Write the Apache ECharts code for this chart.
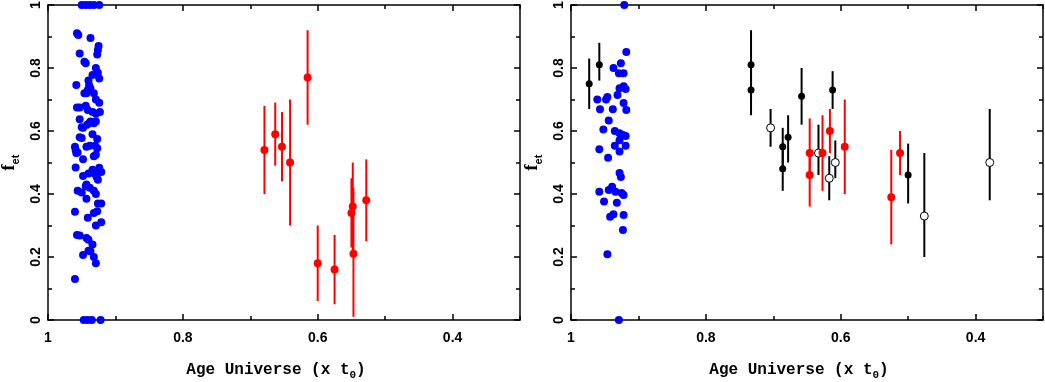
<!DOCTYPE html>
<html>
<head>
<meta charset="utf-8">
<script src="https://cdn.jsdelivr.net/npm/echarts@6/dist/echarts.min.js"></script>
<style>html,body{margin:0;padding:0;background:#fff}#c{width:1045px;height:382px}</style>
</head>
<body>
<div id="c"></div>
<script>
// ---------- Left panel: blue sample ----------
const leftBlueX = [0.950,0.944,0.938,0.932,0.924, 0.947,0.941,0.935,0.922,
  0.957,0.955,0.937,0.925,0.926,0.927,0.953,0.946,0.944,0.929,0.926,0.934,0.924,0.958,0.940,0.939,0.937,0.941,0.946,0.943,0.932,0.929,0.924,
  0.957,0.953,0.944,0.941,0.934,0.929,0.923,0.953,0.942,0.939,0.937,0.932,0.929,0.948,0.950,0.934,0.953,0.950,0.927,
  0.960,0.959,0.958,0.956,0.943,0.938,0.930,0.927,0.932,0.929,0.948,0.924,0.921,0.928,0.959,0.934,0.932,0.948,0.940,0.928,0.926,
  0.943,0.944,0.956,0.950,0.938,0.932,0.929,0.943,0.926,0.921,0.960,0.932,0.927,0.941,0.929,0.921,0.957,0.953,0.943,0.940,0.934,
  0.948,0.940,0.937,0.932,0.929,0.960];
const leftBlueY = [1,1,1,1,1, 0,0,0,0,
  0.91,0.905,0.895,0.87,0.857,0.843,0.846,0.82,0.815,0.80,0.785,0.778,0.767,0.746,0.76,0.745,0.735,0.73,0.72,0.72,0.72,0.70,0.69,
  0.675,0.675,0.68,0.667,0.66,0.655,0.66,0.637,0.62,0.625,0.63,0.625,0.63,0.61,0.612,0.59,0.58,0.578,0.575,
  0.55,0.54,0.53,0.532,0.55,0.553,0.553,0.545,0.52,0.525,0.51,0.483,0.47,0.47,0.484,0.477,0.467,0.457,0.465,0.455,0.445,
  0.43,0.425,0.41,0.405,0.42,0.41,0.40,0.385,0.37,0.37,0.344,0.34,0.345,0.325,0.30,0.31,0.27,0.268,0.26,0.255,0.24,
  0.206,0.22,0.218,0.20,0.18,0.13];

// ---------- Left panel: red points with error bars ----------
const leftRedX  = [0.679,0.663,0.653,0.641,0.615,0.600,0.575,0.550,0.548,0.547,0.528];
const leftRedY  = [0.54,0.59,0.55,0.50,0.77,0.18,0.16,0.34,0.36,0.21,0.38];
const leftRedLo = [0.40,0.49,0.44,0.30,0.62,0.06,0.05,0.23,0.22,0.01,0.25];
const leftRedHi = [0.68,0.69,0.66,0.70,0.92,0.30,0.27,0.45,0.50,0.42,0.51];

// ---------- Right panel: blue sample ----------
const rightBlueX = [0.921,0.918,0.926,0.937,0.929,0.922,0.922,0.919,0.928,0.931,0.946,0.948,0.961,0.957,0.938,0.922,0.918,
  0.944,0.952,0.935,0.928,0.923,0.919,0.928,0.958,0.935,0.919,0.945,0.928,0.928,0.926,0.958,0.944,0.939,0.934,0.925,0.922,
  0.951,0.932,0.942,0.937,0.922,0.923,0.946,0.929];
const rightBlueY = [1.0,0.851,0.815,0.80,0.783,0.783,0.742,0.733,0.736,0.714,0.708,0.70,0.70,0.669,0.669,0.689,0.667,
  0.633,0.605,0.60,0.593,0.587,0.584,0.571,0.542,0.553,0.553,0.515,0.535,0.467,0.454,0.407,0.413,0.423,0.407,0.403,0.397,
  0.376,0.372,0.328,0.336,0.333,0.286,0.209,0.0];

// ---------- Right panel: black filled points ----------
const rightBlackX  = [0.973,0.958,0.733,0.733,0.686,0.686,0.678,0.658,0.612,0.500];
const rightBlackY  = [0.75,0.81,0.81,0.73,0.55,0.48,0.58,0.71,0.73,0.46];
const rightBlackLo = [0.67,0.76,0.70,0.65,0.48,0.41,0.50,0.62,0.67,0.37];
const rightBlackHi = [0.83,0.88,0.92,0.81,0.61,0.55,0.65,0.80,0.79,0.56];

// ---------- Right panel: black open points ----------
const rightOpenX  = [0.704,0.633,0.617,0.608,0.476,0.379];
const rightOpenY  = [0.61,0.53,0.45,0.50,0.33,0.50];
const rightOpenLo = [0.55,0.46,0.38,0.45,0.20,0.38];
const rightOpenHi = [0.67,0.62,0.52,0.57,0.53,0.67];

// ---------- Right panel: red points ----------
const rightRedX  = [0.646,0.646,0.627,0.616,0.594,0.525,0.512];
const rightRedY  = [0.53,0.46,0.53,0.60,0.55,0.39,0.53];
const rightRedLo = [0.46,0.36,0.41,0.53,0.40,0.24,0.46];
const rightRedHi = [0.64,0.53,0.65,0.67,0.70,0.54,0.60];

// ---------- Axis ticks ----------
const xMajor = [1, 0.8, 0.6, 0.4];
const xMinor = [0.9, 0.7, 0.5, 0.3];
const xTickLabels = ['1', '0.8', '0.6', '0.4'];
const yTickLabels = {0: '0', 0.2: '0.2', 0.4: '0.4', 0.6: '0.6', 0.8: '0.8', 1: '1'};

const zip2 = (a, b) => a.map((v, i) => [v, b[i]]);
const zip3 = (a, b, c) => a.map((v, i) => [v, b[i], c[i]]);

function errSeries(xs, lo, hi, color, xi, yi) {
  return {
    type: 'custom', xAxisIndex: xi, yAxisIndex: yi, z: 2,
    data: zip3(xs, lo, hi),
    encode: {x: 0, y: [1, 2]},
    renderItem: function (params, api) {
      const p1 = api.coord([api.value(0), api.value(1)]);
      const p2 = api.coord([api.value(0), api.value(2)]);
      return {type: 'line', shape: {x1: p1[0], y1: p1[1], x2: p2[0], y2: p2[1]},
              style: {stroke: color, lineWidth: 2}};
    }
  };
}
function pts(xs, ys, color, size, xi, yi, extra) {
  return Object.assign({
    type: 'scatter', xAxisIndex: xi, yAxisIndex: yi, z: 3,
    data: zip2(xs, ys), symbol: 'circle', symbolSize: size,
    itemStyle: {color: color, opacity: 1}
  }, extra || {});
}

const lineStyle = {color: '#000', width: 1.5};
const labelFont = {color: '#000', fontFamily: 'Liberation Sans', fontWeight: 'bold', fontSize: 14};

function xAxes(gi) {
  const base = {type: 'value', gridIndex: gi, min: 0.3, max: 1, inverse: true,
    splitLine: {show: false}, axisLabel: {show: false}};
  const majorTick = {show: true, inside: true, length: 6, lineStyle: lineStyle, customValues: xMajor};
  const minorTick = {show: true, inside: true, length: 4, lineStyle: lineStyle, customValues: xMinor};
  return [
    Object.assign({}, base, {position: 'bottom',
      axisLine: {show: true, onZero: false, lineStyle: lineStyle},
      axisTick: majorTick,
      axisLabel: Object.assign({show: true, margin: 11, customValues: xMajor,
        formatter: v => xTickLabels[xMajor.findIndex(m => Math.abs(m - v) < 1e-6)] || ''}, labelFont),
      name: '{a|Age Universe (x t}{s|0}{a|)}', nameLocation: 'middle', nameGap: 39,
      nameTextStyle: {padding: [0, 16, 0, 0], rich: {
        a: {fontFamily: 'Liberation Mono', fontWeight: 'bold', fontSize: 16, color: '#000', lineHeight: 22},
        s: {fontFamily: 'Liberation Mono', fontWeight: 'bold', fontSize: 11, color: '#000', verticalAlign: 'bottom', lineHeight: 12}}}}),
    Object.assign({}, base, {position: 'top',
      axisLine: {show: true, onZero: false, lineStyle: lineStyle}, axisTick: majorTick}),
    Object.assign({}, base, {position: 'bottom', axisLine: {show: false, onZero: false}, axisTick: minorTick}),
    Object.assign({}, base, {position: 'top', axisLine: {show: false, onZero: false}, axisTick: minorTick})
  ];
}
function yAxes(gi) {
  const base = {type: 'value', gridIndex: gi, min: 0, max: 1, interval: 0.2,
    axisLine: {show: true, onZero: false, lineStyle: lineStyle},
    axisTick: {show: true, inside: true, length: 6, lineStyle: lineStyle},
    minorTick: {show: true, splitNumber: 2, length: 4, lineStyle: {color: '#000', width: 1.5}},
    splitLine: {show: false}, minorSplitLine: {show: false}};
  return [
    Object.assign({}, base, {position: 'left',
      axisLabel: Object.assign({margin: 5, rotate: 90,
        formatter: v => yTickLabels[Math.round(v * 10) / 10] || ''}, labelFont),
      name: '{f|f}{s|et}', nameLocation: 'middle', nameGap: 27, nameRotate: 90,
      nameTextStyle: {rich: {
        f: {fontFamily: 'Liberation Serif', fontWeight: 'bold', fontSize: 18, color: '#000', lineHeight: 24},
        s: {fontFamily: 'Liberation Sans', fontWeight: 'bold', fontSize: 11, color: '#000', verticalAlign: 'bottom', lineHeight: 12}}}}),
    Object.assign({}, base, {position: 'right', axisLabel: {show: false}})
  ];
}

// x axes: grid0 -> 0..3, grid1 -> 4..7 ; y axes: grid0 -> 0..1, grid1 -> 2..3
const xa = xAxes(0).concat(xAxes(1));
const ya = yAxes(0).concat(yAxes(1));
const chart = echarts.init(document.getElementById('c'), null, {renderer: 'canvas'});
const series = [
  pts(leftBlueX, leftBlueY, '#0000ff', 8, 0, 0),
  errSeries(leftRedX, leftRedLo, leftRedHi, '#ff0000', 0, 0),
  pts(leftRedX, leftRedY, '#ff0000', 8, 0, 0),
  pts(rightBlueX, rightBlueY, '#0000ff', 8, 4, 2),
  errSeries(rightBlackX, rightBlackLo, rightBlackHi, '#000000', 4, 2),
  errSeries(rightOpenX, rightOpenLo, rightOpenHi, '#000000', 4, 2),
  errSeries(rightRedX, rightRedLo, rightRedHi, '#ff0000', 4, 2),
  pts(rightBlackX, rightBlackY, '#000000', 7, 4, 2),
  pts(rightOpenX, rightOpenY, '#ffffff', 8, 4, 2, {itemStyle: {color: '#ffffff', borderColor: '#000', borderWidth: 1, opacity: 1}}),
  pts(rightRedX, rightRedY, '#ff0000', 8, 4, 2)
];
chart.setOption({
  animation: false,
  backgroundColor: '#ffffff',
  grid: [
    {left: 48, top: 5, width: 472, height: 315, containLabel: false, outerBoundsMode: 'none'},
    {left: 571, top: 5, width: 472, height: 315, containLabel: false, outerBoundsMode: 'none'}
  ],
  xAxis: xa.map((a, i) => Object.assign(a, {gridIndex: i < 4 ? 0 : 1})),
  yAxis: ya.map((a, i) => Object.assign(a, {gridIndex: i < 2 ? 0 : 1})),
  series: series
});
</script>
</body>
</html>
